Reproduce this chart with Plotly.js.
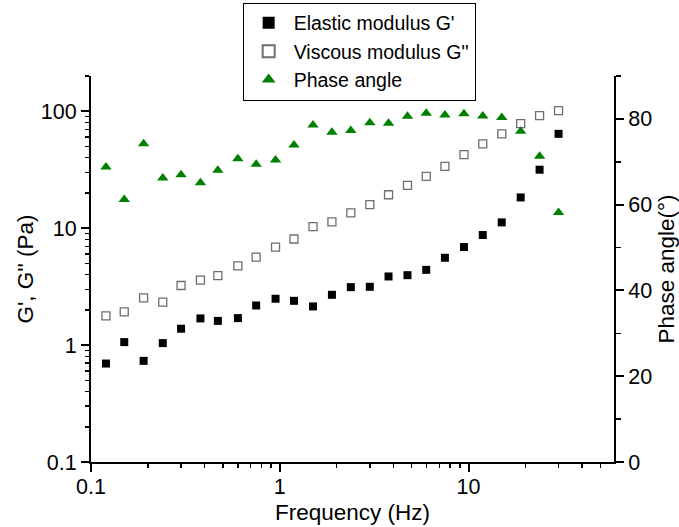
<!DOCTYPE html>
<html>
<head>
<meta charset="utf-8">
<script src="https://cdn.plot.ly/plotly-3.0.1.min.js"></script>
<style>html,body{margin:0;padding:0;background:#fff;}#chart{width:679px;height:527px;}</style>
</head>
<body>
<div id="chart"></div>
<script>
// Frequency (Hz)
const frequency = [0.12, 0.15, 0.19, 0.24, 0.30, 0.38, 0.47, 0.60, 0.75, 0.95,
  1.19, 1.50, 1.89, 2.38, 3.00, 3.77, 4.75, 5.97, 7.50, 9.46,
  11.9, 15.0, 18.9, 23.8, 30.0];
// Elastic modulus G' (Pa)
const elasticG1 = [0.695, 1.06, 0.733, 1.04, 1.38, 1.69, 1.61, 1.70, 2.18, 2.49,
  2.39, 2.14, 2.69, 3.13, 3.15, 3.86, 3.96, 4.40, 5.58, 6.89,
  8.73, 11.2, 18.3, 31.6, 64.0];
// Viscous modulus G'' (Pa)
const viscousG2 = [1.78, 1.92, 2.53, 2.33, 3.23, 3.59, 3.93, 4.76, 5.66, 6.89,
  8.07, 10.3, 11.3, 13.5, 15.9, 19.3, 23.2, 27.7, 33.8, 42.5,
  52.5, 64.0, 78.3, 91.7, 101];
// Phase angle (deg)
const phaseAngle = [68.8, 61.2, 74.2, 66.2, 67.0, 65.1, 68.0, 70.7, 69.4, 70.4,
  73.9, 78.6, 76.9, 77.3, 79.1, 79.0, 80.6, 81.3, 80.9, 81.2,
  80.7, 80.3, 77.1, 71.3, 58.2];

const seriesNames = ["Elastic modulus G'", "Viscous modulus G''", "Phase angle"];

const FONT = 'Arial, "Liberation Sans", sans-serif';

const traces = [
  {
    x: frequency, y: elasticG1, name: seriesNames[0], type: 'scatter', mode: 'markers',
    marker: {symbol: 'square', size: 8, color: '#000000', line: {width: 0}}
  },
  {
    x: frequency, y: viscousG2, name: seriesNames[1], type: 'scatter', mode: 'markers',
    marker: {symbol: 'square-open', size: 8, color: '#6e6e6e', line: {width: 1.3}}
  },
  {
    x: frequency, y: phaseAngle, name: seriesNames[2], type: 'scatter', mode: 'markers',
    yaxis: 'y2',
    marker: {symbol: 'triangle-up', size: 10, color: '#008000', line: {width: 0}}
  }
];

const axisCommon = {
  showline: true, linecolor: '#000', linewidth: 2,
  ticks: 'outside', ticklen: 8, tickwidth: 2, tickcolor: '#000',
  showgrid: false, zeroline: false,
  tickfont: {family: FONT, size: 21.5, color: '#000'}
};

const layout = {
  width: 679, height: 527,
  margin: {l: 91, r: 65, t: 76, b: 65, autoexpand: false},
  paper_bgcolor: '#fff', plot_bgcolor: '#fff',
  font: {family: FONT, color: '#000'},
  showlegend: true,
  legend: {
    x: 0.29, y: 1.19, xanchor: 'left', yanchor: 'top',
    bgcolor: '#fff', bordercolor: '#000', borderwidth: 1,
    font: {family: FONT, size: 19.5, color: '#000'},
    tracegroupgap: 0, itemsizing: 'constant', itemwidth: 40
  },
  xaxis: Object.assign({}, axisCommon, {
    type: 'log', range: [-1, Math.log10(59)], dtick: 1,
    ticklabelstandoff: -4,
    minor: {ticks: 'outside', ticklen: 4, tickwidth: 1.5, tickcolor: '#000', dtick: 'D1', showgrid: false},
    title: {text: 'Frequency (Hz)', font: {family: FONT, size: 22.5, color: '#000'}, standoff: 6}
  }),
  yaxis: Object.assign({}, axisCommon, {
    type: 'log', range: [-1, Math.log10(200)], dtick: 1,
    minor: {ticks: 'outside', ticklen: 4, tickwidth: 1.5, tickcolor: '#000', dtick: 'D1', showgrid: false},
    title: {text: "G', G'' (Pa)", font: {family: FONT, size: 22.5, color: '#000'}, standoff: 1}
  }),
  yaxis2: Object.assign({}, axisCommon, {
    overlaying: 'y', side: 'right', range: [0, 90], dtick: 20, tick0: 0,
    minor: {ticks: 'outside', ticklen: 5, tickwidth: 1.5, tickcolor: '#000', dtick: 10, showgrid: false},
    title: {text: 'Phase angle(°)', font: {family: FONT, size: 22.5, color: '#000'}, standoff: 8}
  })
};

Plotly.newPlot('chart', traces, layout, {displayModeBar: false, staticPlot: true});
</script>
</body>
</html>
